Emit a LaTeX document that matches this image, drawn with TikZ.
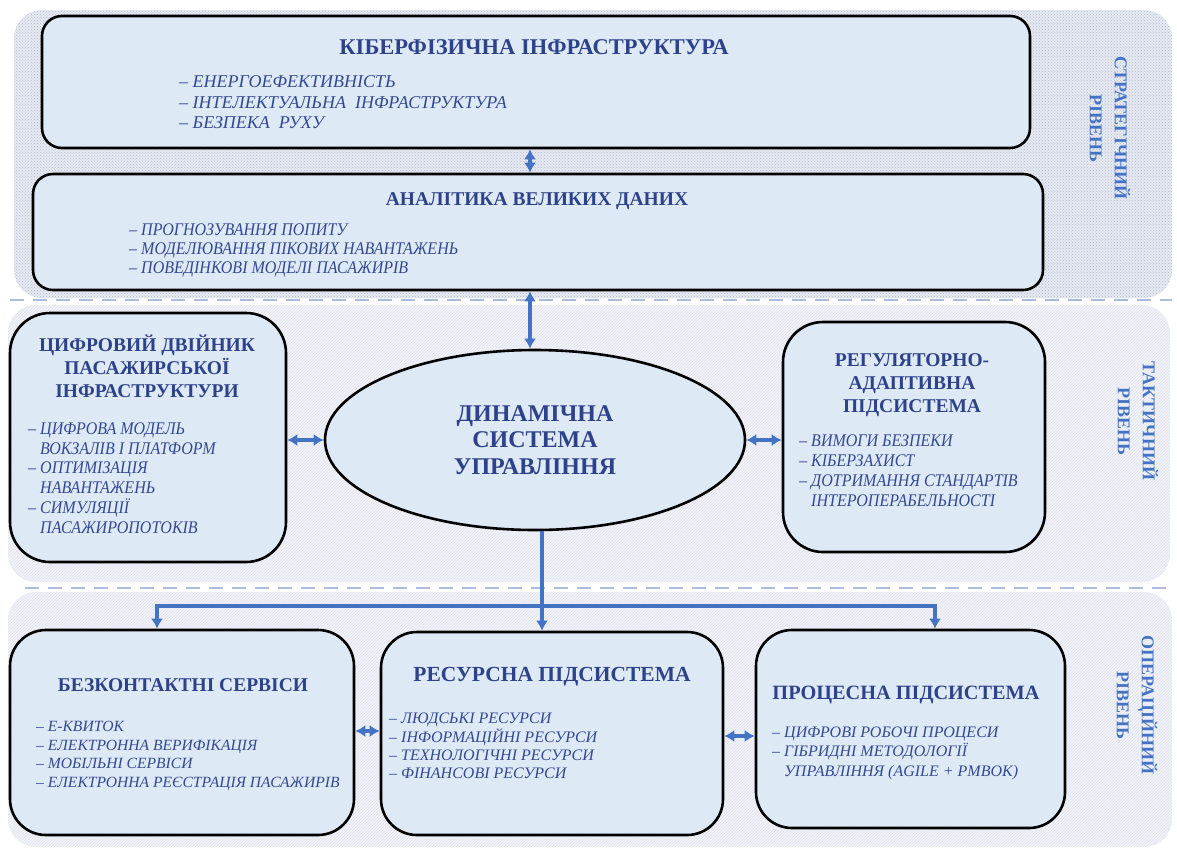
\documentclass[tikz,border=0pt]{standalone}
\usepackage{fontspec}
\setmainfont{Liberation Serif}
\newfontfamily\condfont[FakeStretch=0.9]{Liberation Serif}
\usetikzlibrary{arrows.meta,shapes.geometric,patterns}

\definecolor{boxfill}{RGB}{222,233,246}
\definecolor{navy}{RGB}{46,66,138}
\definecolor{itemc}{RGB}{52,72,145}
\definecolor{arrc}{RGB}{68,114,196}
\definecolor{strfill}{RGB}{230,233,241}
\definecolor{strdot}{RGB}{178,188,208}
\definecolor{takfill}{RGB}{242,244,249}
\definecolor{takline}{RGB}{220,225,237}
\definecolor{dashc}{RGB}{172,188,220}

\tikzset{
  box/.style={draw=black, line width=2.6pt, fill=boxfill, inner sep=0pt},
  ttl/.style={text=navy, font=\fontsize{19.5}{#1}\selectfont\bfseries, align=center, inner sep=0pt},
  itm/.style={text=itemc, font=\fontsize{16}{#1}\selectfont\itshape, align=left, anchor=west, inner sep=0pt},
  citm/.style={text=itemc, font=\fontsize{17.8}{#1}\selectfont\condfont\itshape, align=left, anchor=west, inner sep=0pt},
  lvl/.style={text=arrc, font=\fontsize{18}{25}\selectfont\bfseries, align=center, rotate=-90, inner sep=0pt},
  link/.style={draw=arrc, line width=3.2pt, {Latex[length=10pt,width=12pt]}-{Latex[length=10pt,width=12pt]}},
  feed/.style={draw=arrc, line width=3.2pt, -{Latex[length=10pt,width=12pt]}},
  trunk/.style={draw=arrc, line width=3.2pt},
  sepline/.style={draw=dashc, line width=2.8pt, dash pattern=on 14pt off 9pt},
}

\begin{document}
\begin{tikzpicture}[x=1pt,y=-1pt]
\useasboundingbox (0,0) rectangle (1177,847);

% ---- level bands
\fill[strfill, rounded corners=28] (14,10) rectangle (1172,298);
\fill[pattern=crosshatch dots, pattern color=strdot, rounded corners=28] (14,10) rectangle (1172,298);
\fill[takfill, rounded corners=28] (8,305) rectangle (1170,582);
\fill[pattern=north east lines, pattern color=takline, rounded corners=28] (8,305) rectangle (1170,582);
\fill[takfill, rounded corners=28] (8,592) rectangle (1172,847);
\fill[pattern=north east lines, pattern color=takline, rounded corners=28] (8,592) rectangle (1172,847);
\draw[sepline] (10,300) -- (1172,300);
\draw[sepline] (25,588) -- (1172,588);

% ---- level labels
\node[lvl] (lvS) at (1110,128) {СТРАТЕГІЧНИЙ\\РІВЕНЬ};
\node[lvl] (lvT) at (1138,421) {ТАКТИЧНИЙ\\РІВЕНЬ};
\node[lvl] (lvO) at (1137,705) {ОПЕРАЦІЙНИЙ\\РІВЕНЬ};

% ---- strategic boxes
\node[box, rounded corners=20, minimum width=988, minimum height=132] (kib) at (536,82) {};
\node[ttl=23, font=\fontsize{22.5}{26}\selectfont\bfseries] (kibT) at (534,47) {КІБЕРФІЗИЧНА ІНФРАСТРУКТУРА};
\node[itm=20.5, font=\fontsize{18}{20.5}\selectfont\itshape] (kibL) at (179,102.5) {– ЕНЕРГОЕФЕКТИВНІСТЬ\\– ІНТЕЛЕКТУАЛЬНА\ \ ІНФРАСТРУКТУРА\\– БЕЗПЕКА\ \ РУХУ};

\node[box, rounded corners=20, minimum width=1010, minimum height=116] (ana) at (538,232) {};
\node[ttl=23] (anaT) at (537,201) {АНАЛІТИКА ВЕЛИКИХ ДАНИХ};
\node[citm=19] (anaL) at (129,250) {– ПРОГНОЗУВАННЯ ПОПИТУ\\– МОДЕЛЮВАННЯ ПІКОВИХ НАВАНТАЖЕНЬ\\– ПОВЕДІНКОВІ МОДЕЛІ ПАСАЖИРІВ};

% ---- tactical
\node[box, rounded corners=40, minimum width=276, minimum height=249] (twin) at (148,437.5) {};
\node[ttl=23] (twinT) at (147,366) {ЦИФРОВИЙ ДВІЙНИК\\ПАСАЖИРСЬКОЇ\\ІНФРАСТРУКТУРИ};
\node[citm=19.8] (twinL) at (28,478) {– ЦИФРОВА МОДЕЛЬ\\\hphantom{– }ВОКЗАЛІВ І ПЛАТФОРМ\\– ОПТИМІЗАЦІЯ\\\hphantom{– }НАВАНТАЖЕНЬ\\– СИМУЛЯЦІЇ\\\hphantom{– }ПАСАЖИРОПОТОКІВ};

\node[box, ellipse, minimum width=420, minimum height=180, text=navy, align=center,
      font=\fontsize{24}{26.5}\selectfont\bfseries] (ell) at (535,440) {\raisebox{-2pt}{\parbox{200pt}{\centering ДИНАМІЧНА\\СИСТЕМА\\УПРАВЛІННЯ}}};

\node[box, rounded corners=40, minimum width=262, minimum height=230] (reg) at (914,437) {};
\node[ttl=23] (regT) at (912,385) {РЕГУЛЯТОРНО-\\АДАПТИВНА\\ПІДСИСТЕМА};
\node[citm=20] (regL) at (799,470.5) {– ВИМОГИ БЕЗПЕКИ\\– КІБЕРЗАХИСТ\\– ДОТРИМАННЯ СТАНДАРТІВ\\\hphantom{– }ІНТЕРОПЕРАБЕЛЬНОСТІ};

% ---- operational
\node[box, rounded corners=36, minimum width=344, minimum height=205] (bez) at (182,732.5) {};
\node[ttl=23] (bezT) at (183,685) {БЕЗКОНТАКТНІ СЕРВІСИ};
\node[itm=18.4, font=\fontsize{15.6}{18.4}\selectfont\itshape] (bezL) at (36,756) {– Е-КВИТОК\\– ЕЛЕКТРОННА ВЕРИФІКАЦІЯ\\– МОБІЛЬНІ СЕРВІСИ\\– ЕЛЕКТРОННА РЕЄСТРАЦІЯ ПАСАЖИРІВ};

\node[box, rounded corners=36, minimum width=342, minimum height=203] (res) at (552,733.5) {};
\node[ttl=23, font=\fontsize{21.5}{25}\selectfont\bfseries] (resT) at (552,677) {РЕСУРСНА ПІДСИСТЕМА};
\node[itm=18.4] (resL) at (389,746) {– ЛЮДСЬКІ РЕСУРСИ\\– ІНФОРМАЦІЙНІ РЕСУРСИ\\– ТЕХНОЛОГІЧНІ РЕСУРСИ\\– ФІНАНСОВІ РЕСУРСИ};

\node[box, rounded corners=36, minimum width=309, minimum height=198] (pro) at (910.5,729) {};
\node[ttl=23, font=\fontsize{20.3}{24}\selectfont\bfseries] (proT) at (906,695) {ПРОЦЕСНА ПІДСИСТЕМА};
\node[itm=19.5] (proL) at (772,753) {– ЦИФРОВІ РОБОЧІ ПРОЦЕСИ\\– ГІБРИДНІ МЕТОДОЛОГІЇ\\\hphantom{– }УПРАВЛІННЯ (AGILE + PMBOK)};

% ---- connectors
\coordinate (xa) at (530,0);
\coordinate (xm) at (542,0);
\coordinate (xl) at (157,0);
\coordinate (xr) at (935,0);
\coordinate (bus) at (542,606);
\coordinate (yb) at (0,731);
\coordinate (yc) at (0,736);

\draw[link] (kib.south -| xa) -- (ana.north -| xa);
\draw[link] (ana.south -| xa) -- (ell.north -| xa);
\draw[link] (twin.east |- ell.west) -- (ell.west);
\draw[link] (ell.east) -- (reg.west |- ell.east);

\draw[trunk] (ell.south -| xm) -- (bus);
\draw[feed] (bus) -- (res.north -| xm);
\draw[feed] (bus) -| (bez.north -| xl);
\draw[feed] (bus) -| (pro.north -| xr);

\draw[link] (bez.east |- yb) -- (res.west |- yb);
\draw[link] (res.east |- yc) -- (pro.west |- yc);
\end{tikzpicture}
\end{document}
